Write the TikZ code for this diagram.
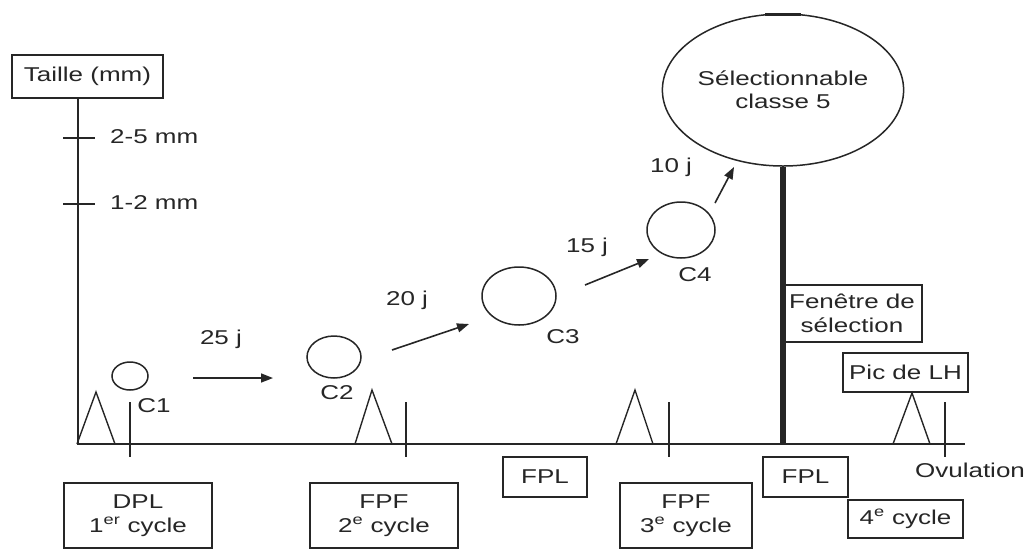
\documentclass[tikz,border=0pt]{standalone}
\usepackage{fontspec}
\setmainfont{Liberation Sans}[FakeStretch=1.3]
\usetikzlibrary{arrows.meta,shapes.geometric}
\definecolor{ink}{HTML}{262626}
\begin{document}
\begin{tikzpicture}[x=1pt,y=-1pt,
  every node/.style={font=\fontsize{20}{24}\selectfont, text=ink},
  box/.style={draw=ink, line width=1.4pt, inner sep=0pt, align=center, rectangle},
  fol/.style={draw=ink, ellipse, line width=1.5pt, inner sep=0pt},
  ln/.style={draw=ink, line width=1.4pt},
  arr/.style={draw=ink, line width=1.6pt, -{Triangle[length=12pt,width=9pt]}},
  lbl/.style={inner sep=0pt}]
\useasboundingbox (0,0) rectangle (1033,550);

% axis
\node[box, minimum width=151pt, minimum height=43pt] (taille) at (87.5,76.5) {Taille (mm)};
\coordinate (O) at (78,444);
\coordinate (E) at (965,444);
\draw[ln] (taille.south -| O) -- (O) -- (E);

% size ticks
\draw[ln] (63,138) -- (95,138);
\draw[ln] (63,204) -- (95,204);
\node[lbl, anchor=west] (mm25) at (110,137) {2-5 mm};
\node[lbl, anchor=west] (mm12) at (110,203) {1-2 mm};

% peaks and ticks on baseline
\draw[ln] (77,444) -- (96,392) -- (115,444);
\draw[ln] (130,402) -- (130,457);
\draw[ln] (355,444) -- (372,390) -- (392,444);
\draw[ln] (406,402) -- (406,457);
\draw[ln] (616,444) -- (635,390) -- (653,444);
\draw[ln] (669,402) -- (669,457);
\draw[ln] (893,444) -- (912,393) -- (930,444);
\draw[ln] (945,402) -- (945,457);

% follicles
\node[fol, minimum width=36pt, minimum height=28pt] (c1) at (130,376) {};
\node[fol, minimum width=54pt, minimum height=42pt] (c2) at (334,357) {};
\node[fol, minimum width=74pt, minimum height=58pt] (c3) at (519,296) {};
\node[fol, minimum width=68pt, minimum height=56pt] (c4) at (681,230) {};
\node[fol, minimum width=200pt, minimum height=152pt, align=center] (big) at (783,90)
  {Sélectionnable\\[-1pt]classe 5};
\draw[ink, line width=3pt] (765,14.8) -- (801,14.8);

\node[lbl] (lc1) at (154,406) {C1};
\node[lbl] (lc2) at (337,393) {C2};
\node[lbl] (lc3) at (563,337) {C3};
\node[lbl] (lc4) at (695,275) {C4};

% arrows
\coordinate (a1s) at (193,378); \coordinate (a1e) at (273,378);
\coordinate (a2s) at (392,350); \coordinate (a2e) at (469,324);
\coordinate (a3s) at (585,285); \coordinate (a3e) at (649,259);
\coordinate (a4s) at (715,203); \coordinate (a4e) at (734,167);
\draw[arr] (a1s) -- (a1e);
\draw[arr] (a2s) -- (a2e);
\draw[arr] (a3s) -- (a3e);
\draw[arr] (a4s) -- (a4e);
\node[lbl] (j25) at (221,339) {25 j};
\node[lbl] (j20) at (407,300) {20 j};
\node[lbl] (j15) at (587,247) {15 j};
\node[lbl] (j10) at (671,167) {10 j};

% selection window
\draw[ink, line width=5.5pt] (big.south) -- (big.south |- O);
\node[box, minimum width=140pt, minimum height=57pt] (fen) at (852,313.5) {Fenêtre de\\sélection};
\node[box, minimum width=125pt, minimum height=39pt] (lh) at (905.5,372.5) {Pic de LH};

% bottom boxes
\node[box, minimum width=148pt, minimum height=65pt] (dpl) at (138,515.5) {DPL\\1\textsuperscript{er} cycle};
\node[box, minimum width=148pt, minimum height=65pt] (fpf2) at (384,515.5) {FPF\\2\textsuperscript{e} cycle};
\node[box, minimum width=84pt, minimum height=40pt] (fpl1) at (545,477) {FPL};
\node[box, minimum width=132pt, minimum height=65pt] (fpf3) at (686,515.5) {FPF\\3\textsuperscript{e} cycle};
\node[box, minimum width=85pt, minimum height=40pt] (fpl2) at (805.5,477) {FPL};
\node[box, minimum width=115pt, minimum height=38pt] (c4th) at (905.5,519) {4\textsuperscript{e} cycle};
\node[lbl] (ovu) at (970,470) {Ovulation};
\end{tikzpicture}
\end{document}
